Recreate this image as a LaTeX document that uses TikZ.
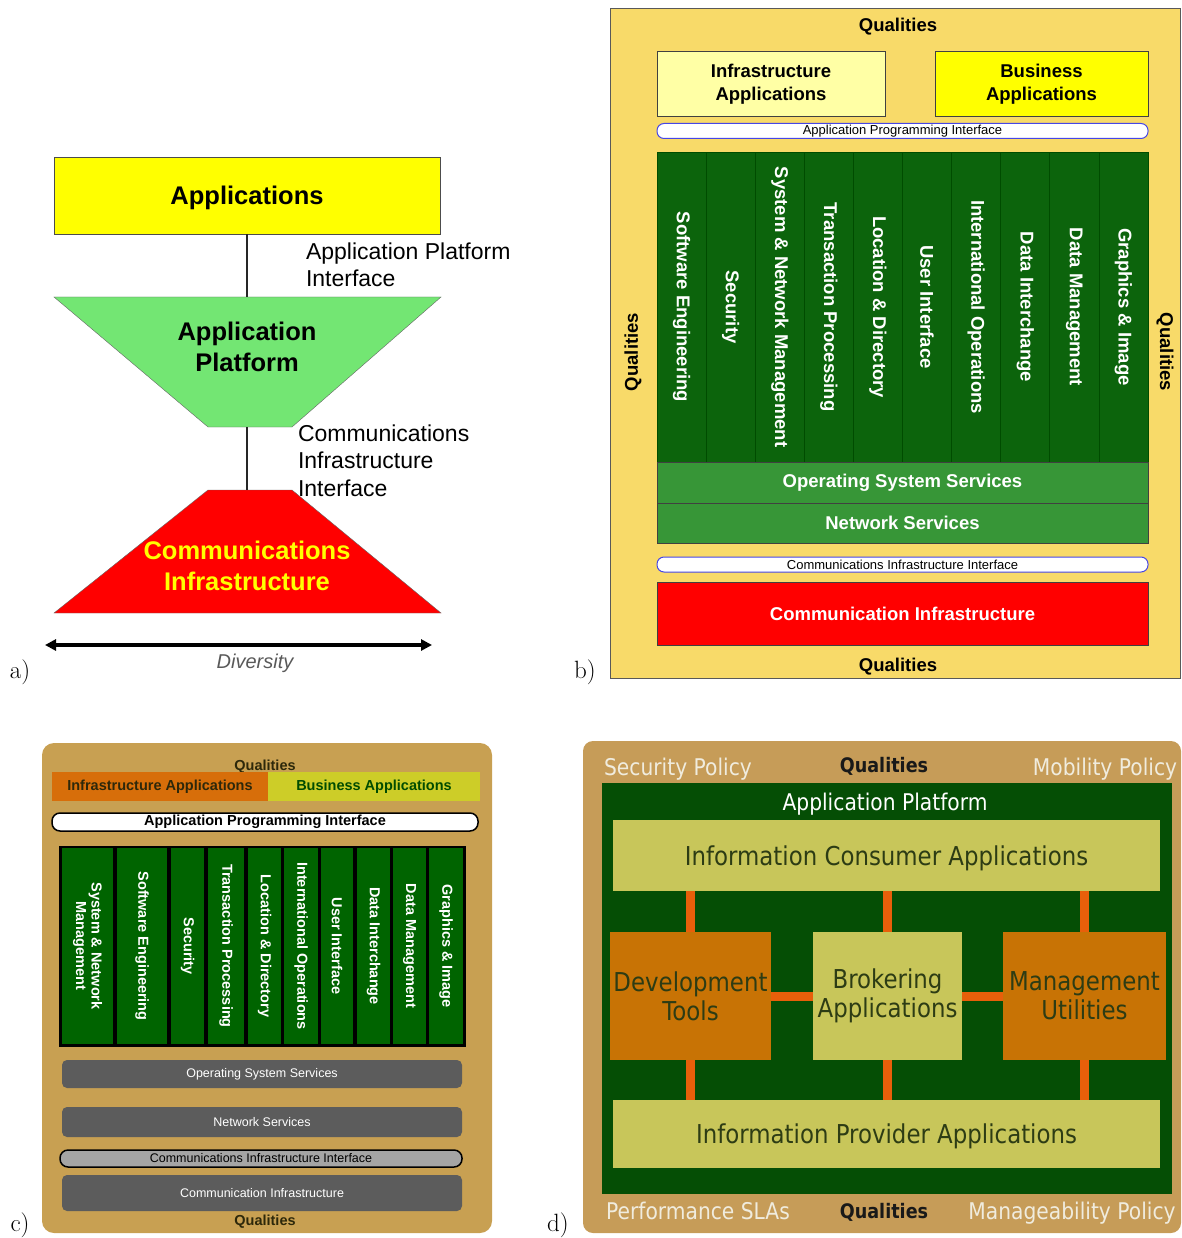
\documentclass[tikz,border=0pt]{standalone}
\usepackage{fontspec}
\setsansfont{Liberation Sans}
\newfontfamily\djv[FakeStretch=0.88]{DejaVu Sans}
\usetikzlibrary{arrows.meta}
\definecolor{ayellow}{RGB}{255,255,0}
\definecolor{agreen}{RGB}{115,230,115}
\definecolor{ared}{RGB}{255,0,0}
\definecolor{bouter}{RGB}{248,218,105}
\definecolor{binfra}{RGB}{255,255,165}
\definecolor{bcolg}{RGB}{12,100,12}
\definecolor{bmidg}{RGB}{55,150,55}
\definecolor{bblue}{RGB}{70,70,230}
\definecolor{ctan}{RGB}{200,160,82}
\definecolor{corange}{RGB}{215,110,10}
\definecolor{cyg}{RGB}{205,205,40}
\definecolor{cgreen}{RGB}{0,100,0}
\definecolor{cgray}{RGB}{92,92,92}
\definecolor{clgray}{RGB}{165,165,165}
\definecolor{cdark}{RGB}{45,40,10}
\definecolor{dtan}{RGB}{198,156,88}
\definecolor{dgreen}{RGB}{5,78,5}
\definecolor{dlight}{RGB}{200,198,90}
\definecolor{dorange}{RGB}{200,115,5}
\definecolor{dconn}{RGB}{232,95,10}
\definecolor{dtext}{RGB}{45,60,20}
\definecolor{dwhite}{RGB}{240,236,222}
\begin{document}
\begin{tikzpicture}[x=1pt,y=-1pt,
  every node/.style={inner sep=0pt, outer sep=0pt},
  panellabel/.style={font=\rmfamily\fontsize{25}{30}\selectfont},
  abig/.style={font=\sffamily\bfseries\fontsize{25.5}{31}\selectfont, align=center},
  alabel/.style={font=\sffamily\fontsize{23}{27.5}\selectfont, align=left, anchor=north west},
  aline/.style={draw=black!85, line width=1.2pt},
  bbold/.style={font=\sffamily\bfseries\fontsize{18.5}{23}\selectfont, align=center},
  bbox/.style={draw=black!75, line width=0.8pt, minimum width=491, bbold},
  bpill/.style={draw=bblue, fill=white, line width=1pt, rounded corners=7pt, minimum width=491, minimum height=15, font=\sffamily\fontsize{13}{15}\selectfont},
  bcol/.style={draw=black!70!green, fill=bcolg, line width=0.8pt, minimum width=310, minimum height=49.1, text=white, bbold},
  csmall/.style={font=\sffamily\bfseries\fontsize{14.5}{16}\selectfont},
  ccol/.style={fill=cgreen, minimum width=196, text=white, align=center, font=\sffamily\bfseries\fontsize{14.5}{15.5}\selectfont},
  cbar/.style={fill=cgray, rounded corners=5pt, minimum width=400, text=white, font=\sffamily\fontsize{12.5}{14}\selectfont},
  dside/.style={font=\djv\fontsize{23}{26}\selectfont, text=dwhite, text depth=0pt},
  dqual/.style={font=\djv\bfseries\fontsize{20}{24}\selectfont, text=black!90},
  dbox/.style={font=\djv\fontsize{26}{29}\selectfont, text=dtext, align=center},
  dconnector/.style={draw=dconn, line width=9pt}
]
\useasboundingbox (0,0) rectangle (1181,1238);

% ================= panel a =================
\node[draw=black!70, line width=0.8pt, fill=ayellow, minimum width=386, minimum height=77, abig, text depth=0pt] (apps) at (247,195.5) {Applications};
\draw[draw=black!60, fill=agreen] (54,297) -- (441,297) -- (292,427) -- (208,427) -- cycle;
\coordinate (platT) at (247,297);
\coordinate (platB) at (247,427);
\node[abig] (plat) at (247,346.5) {Application\\Platform};
\draw[draw=black!60, fill=ared] (208,490) -- (292,490) -- (441,613) -- (54,613) -- cycle;
\coordinate (commT) at (247,490);
\node[abig, text=ayellow] (comm) at (247,565.5) {Communications\\Infrastructure};
\draw[aline] (apps.south) -- (platT);
\draw[aline] (platB) -- (commT);
\node[alabel] (apil) at (306,242.5) {Application Platform\\Interface};
\node[alabel] (cil) at (298,424.5) {Communications\\Infrastructure\\Interface};
\coordinate (divL) at (45,645);
\coordinate (divR) at (432,645);
\draw[line width=3.5pt, {Triangle[length=11pt,width=11pt]}-{Triangle[length=11pt,width=11pt]}] (divL) -- (divR);
\node[font=\sffamily\itshape\fontsize{20}{24}\selectfont, text=black!65] (div) at (255,663) {Diversity};
\node[panellabel] (la) at (20,672) {a)};

% ================= panel b =================
\draw[draw=black!65, line width=1pt, fill=bouter] (610.5,8.5) rectangle (1180.5,678);
\node[bbold] (bq1) at (898,27) {Qualities};
\node[bbold] (bq2) at (898,667) {Qualities};
\node[bbold, rotate=90] (bq3) at (633,352) {Qualities};
\node[bbold, rotate=-90] (bq4) at (1165,352) {Qualities};
\node[draw=black!75, line width=0.8pt, fill=binfra, minimum width=228, minimum height=65, bbold] (binf) at (771,84) {Infrastructure\\Applications};
\node[draw=black!75, line width=0.8pt, fill=ayellow, minimum width=213, minimum height=65, bbold] (bbus) at (1041.5,84) {Business\\Applications};
\node[bpill] (bapi) at (902.5,131) {Application Programming Interface};
\foreach \t [count=\i] in {Software Engineering, Security, System \& Network Management, Transaction Processing, Location \& Directory, User Interface, International Operations, Data Interchange, Data Management, Graphics \& Image}{
  \node[bcol, rotate=-90] (bc\i) at ({657+49.1*(\i-0.5)},307) {\t};
}
\node[bbox, fill=bmidg, minimum height=41, text=white] (bos) at (902.5,482.5) {Operating System Services};
\node[bbox, fill=bmidg, minimum height=40, text=white] (bnet) at (902.5,523) {Network Services};
\node[bpill] (bcii) at (902.5,564.5) {Communications Infrastructure Interface};
\node[bbox, fill=ared, minimum height=63, text=white] (bci) at (902.5,613.5) {Communication Infrastructure};
\node[panellabel] (lb) at (585,672) {b)};

% ================= panel c =================
\fill[ctan, rounded corners=12pt] (42,743) rectangle (492,1233);
\node[csmall, text=cdark] (cq1) at (265,767) {Qualities};
\node[fill=corange, minimum width=216, minimum height=29, csmall, text=cdark] (cinf) at (160,786.5) {Infrastructure Applications};
\node[fill=cyg, minimum width=212, minimum height=29, csmall, text=black!70!green] (cbus) at (374,786.5) {Business Applications};
\node[draw=black, line width=1.5pt, fill=white, rounded corners=8pt, minimum width=426, minimum height=18, csmall] (capi) at (265,822) {Application Programming Interface};
\fill[black] (59,846) rectangle (466,1047);
\foreach \xa/\xb/\t [count=\i] in {62/113/{System \& Network\\Management}, 117/167/{Software Engineering}, 171/204/{Security}, 208/244/{Transaction Processing}, 248/281/{Location \& Directory}, 284/318/{International Operations}, 321/353/{User Interface}, 357/390/{Data Interchange}, 393/426/{Data Management}, 429/463/{Graphics \& Image}}{
  \node[ccol, rotate=-90, minimum height={\xb-\xa}] (cc\i) at ({(\xa+\xb)/2},946) {\t};
}
\node[cbar, minimum height=28] (cos) at (262,1074) {Operating System Services};
\node[cbar, minimum height=30] (cnet) at (262,1122) {Network Services};
\node[draw=black, line width=1.5pt, fill=clgray, rounded corners=8pt, minimum width=402, minimum height=17, font=\sffamily\fontsize{12.5}{14}\selectfont] (ccii) at (261,1158.5) {Communications Infrastructure Interface};
\node[cbar, minimum height=36] (cci) at (262,1193) {Communication Infrastructure};
\node[csmall, text=cdark] (cq2) at (265,1222) {Qualities};
\node[panellabel] (lc) at (20,1225) {c)};

% ================= panel d =================
\fill[dtan, rounded corners=10pt] (583,741) rectangle (1181,1233);
\node[dside] (dsec) at (678,767) {Security Policy};
\node[dqual] (dq1) at (884,766) {Qualities};
\node[dside] (dmob) at (1105,767) {Mobility Policy};
\fill[dgreen] (602,783) rectangle (1172,1194);
\node[font=\djv\fontsize{23}{26}\selectfont, text=white, text depth=0pt] (dap) at (885,802) {Application Platform};
\node[fill=dlight, minimum width=547, minimum height=71, dbox, text depth=0pt] (ica) at (886.5,855.5) {Information Consumer Applications};
\node[fill=dorange, minimum width=161, minimum height=128, dbox] (dev) at (690.5,996) {Development\\Tools};
\node[fill=dlight, minimum width=149, minimum height=128, dbox] (brok) at (887.5,996) {Brokering\\Applications};
\node[fill=dorange, minimum width=163, minimum height=128, dbox] (mgmt) at (1084.5,996) {Management\\Utilities};
\node[fill=dlight, minimum width=547, minimum height=68, dbox, text depth=0pt] (ipa) at (886.5,1134) {Information Provider Applications};
\draw[dconnector] (ica.south -| dev.north) -- (dev.north);
\draw[dconnector] (ica.south -| brok.north) -- (brok.north);
\draw[dconnector] (ica.south -| mgmt.north) -- (mgmt.north);
\draw[dconnector] (dev.south) -- (dev.south |- ipa.north);
\draw[dconnector] (brok.south) -- (brok.south |- ipa.north);
\draw[dconnector] (mgmt.south) -- (mgmt.south |- ipa.north);
\draw[dconnector] (dev.east) -- (brok.west);
\draw[dconnector] (brok.east) -- (mgmt.west);
\node[dside] (dperf) at (698,1211) {Performance SLAs};
\node[dqual] (dq2) at (884,1212) {Qualities};
\node[dside] (dman) at (1072,1211) {Manageability Policy};
\node[panellabel] (ld) at (558,1225) {d)};
\end{tikzpicture}
\end{document}
